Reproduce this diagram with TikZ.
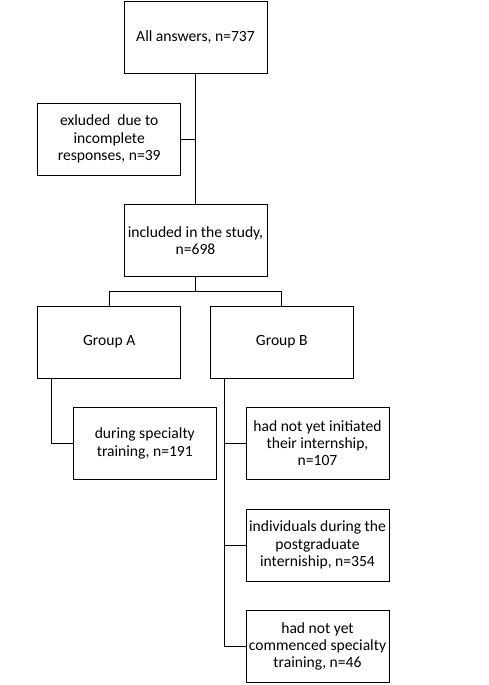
\documentclass[tikz,border=0pt]{standalone}
\usepackage{fontspec}
\setmainfont{Carlito}
\usetikzlibrary{calc}
\begin{document}
\begin{tikzpicture}[x=1pt,y=1pt,
  box/.style={draw, line width=0.9pt, minimum width=143pt, minimum height=72pt, align=center, inner sep=1pt,
    font=\fontsize{15.6}{17.3}\selectfont},
  conn/.style={line width=0.9pt}]
\useasboundingbox (0,0) rectangle (489,685);
\node[box] (all) at (195.5,647.5) {All answers, n=737};
\node[box] (excl) at (109.2,546) {exluded\ \ due to\\incomplete\\responses, n=39};
\node[box] (incl) at (195.5,444.3) {included in the study,\\n=698};
\node[box] (ga) at (109.2,343) {Group A};
\node[box] (gb) at (281.8,343) {Group B};
\node[box] (dur) at (144.8,241.7) {during specialty\\training, n=191};
\node[box] (r1) at (317.5,241.7) {had not yet initiated\\their internship,\\n=107};
\node[box] (r2) at (317.5,140) {individuals during the\\postgraduate\\interniship, n=354};
\node[box] (r3) at (317.5,38.7) {had not yet\\commenced specialty\\training, n=46};
\draw[conn] (all.south) -- (incl.north);
\draw[conn] (excl.east) -- (excl.east -| all.south);
\coordinate (split) at ($(incl.south)+(0,-14.3)$);
\draw[conn] (incl.south) -- (split);
\draw[conn] (ga.north) |- (split) -| (gb.north);
\coordinate (ta) at ($(ga.south west)+(14.3,0)$);
\draw[conn] (ta) |- (dur.west);
\coordinate (tb) at ($(gb.south west)+(14.4,0)$);
\draw[conn] (tb) |- (r3.west);
\draw[conn] (r1.west) -- (r1.west -| tb);
\draw[conn] (r2.west) -- (r2.west -| tb);
\end{tikzpicture}
\end{document}
